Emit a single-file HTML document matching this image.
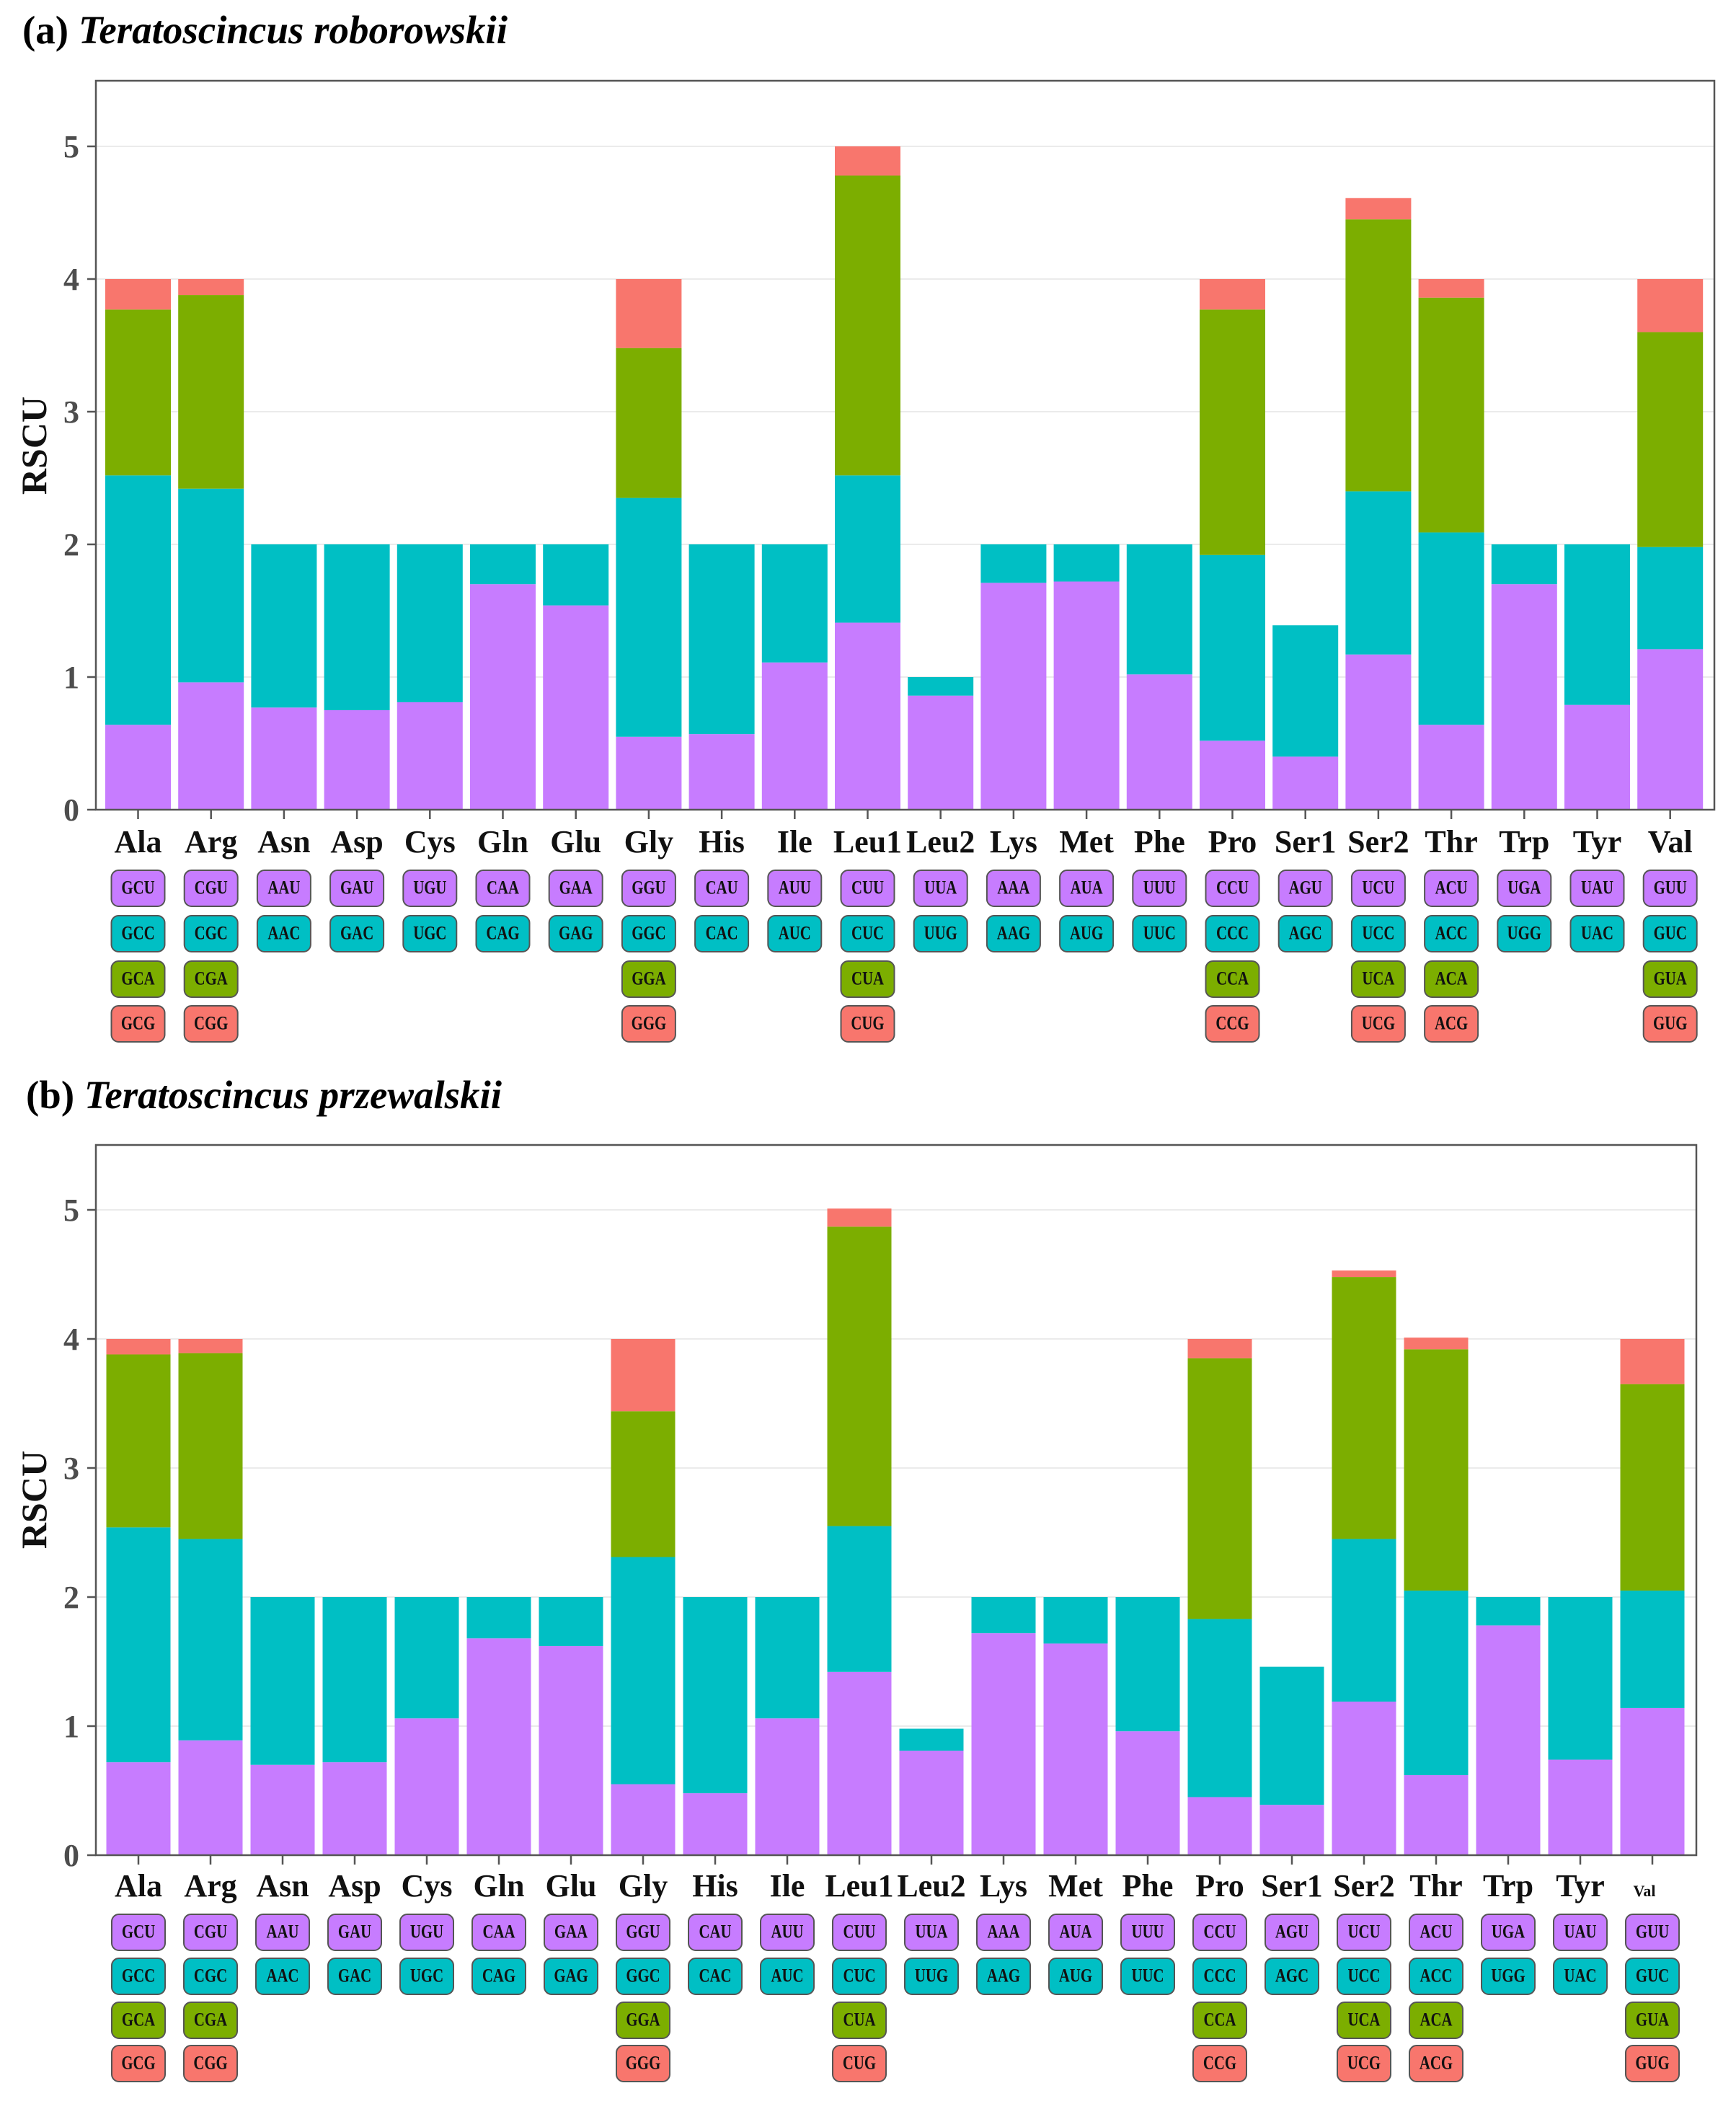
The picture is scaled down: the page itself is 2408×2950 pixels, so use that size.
<!DOCTYPE html>
<html><head><meta charset="utf-8"><style>
html,body{margin:0;padding:0;background:#fff}
svg{display:block}
text{font-family:"Liberation Serif",serif;font-weight:bold}
.P{fill:#C77CFF}.C{fill:#00BFC4}.G{fill:#7CAE00}.R{fill:#F8766D}
.ba rect{x:-45.5px;width:91px}
.bb rect{x:-44.5px;width:89px}
.cd rect{x:-37px;y:-25px;width:74px;height:50px;rx:10px;stroke:#555;stroke-width:2}
.cd text{font-size:26px;text-anchor:middle;dominant-baseline:central;transform:scaleX(.8);fill:#111}
.aa text{font-size:44px;text-anchor:middle;fill:#111}
.yt text{font-size:44px;text-anchor:end;fill:#4d4d4d}
.grid line{stroke:#ebebeb;stroke-width:2}
.tk line{stroke:#555;stroke-width:2.5}
</style></head><body>
<svg width="2408" height="2950" viewBox="0 0 2408 2950" xmlns="http://www.w3.org/2000/svg">
<!-- Panel a -->
<text x="31" y="60" font-size="55" textLength="673" lengthAdjust="spacingAndGlyphs">(a) <tspan font-style="italic">Teratoscincus roborowskii</tspan></text>
<g class="grid"><line x1="133" x2="2378" y1="1123" y2="1123"/><line x1="133" x2="2378" y1="939" y2="939"/><line x1="133" x2="2378" y1="755" y2="755"/><line x1="133" x2="2378" y1="571" y2="571"/><line x1="133" x2="2378" y1="387" y2="387"/><line x1="133" x2="2378" y1="203" y2="203"/></g>
<g class="ba">
<g transform="translate(191.5,1123) scale(1,-184)"><rect class="P" height=".64"/><rect class="C" y=".64" height="1.88"/><rect class="G" y="2.52" height="1.25"/><rect class="R" y="3.77" height=".23"/></g>
<g transform="translate(292.7,1123) scale(1,-184)"><rect class="P" height=".96"/><rect class="C" y=".96" height="1.46"/><rect class="G" y="2.42" height="1.46"/><rect class="R" y="3.88" height=".12"/></g>
<g transform="translate(393.9,1123) scale(1,-184)"><rect class="P" height=".77"/><rect class="C" y=".77" height="1.23"/></g>
<g transform="translate(495.1,1123) scale(1,-184)"><rect class="P" height=".75"/><rect class="C" y=".75" height="1.25"/></g>
<g transform="translate(596.3,1123) scale(1,-184)"><rect class="P" height=".81"/><rect class="C" y=".81" height="1.19"/></g>
<g transform="translate(697.5,1123) scale(1,-184)"><rect class="P" height="1.7"/><rect class="C" y="1.7" height=".3"/></g>
<g transform="translate(798.7,1123) scale(1,-184)"><rect class="P" height="1.54"/><rect class="C" y="1.54" height=".46"/></g>
<g transform="translate(899.9,1123) scale(1,-184)"><rect class="P" height=".55"/><rect class="C" y=".55" height="1.8"/><rect class="G" y="2.35" height="1.13"/><rect class="R" y="3.48" height=".52"/></g>
<g transform="translate(1001.1,1123) scale(1,-184)"><rect class="P" height=".57"/><rect class="C" y=".57" height="1.43"/></g>
<g transform="translate(1102.3,1123) scale(1,-184)"><rect class="P" height="1.11"/><rect class="C" y="1.11" height=".89"/></g>
<g transform="translate(1203.5,1123) scale(1,-184)"><rect class="P" height="1.41"/><rect class="C" y="1.41" height="1.11"/><rect class="G" y="2.52" height="2.26"/><rect class="R" y="4.78" height=".22"/></g>
<g transform="translate(1304.7,1123) scale(1,-184)"><rect class="P" height=".86"/><rect class="C" y=".86" height=".14"/></g>
<g transform="translate(1405.9,1123) scale(1,-184)"><rect class="P" height="1.71"/><rect class="C" y="1.71" height=".29"/></g>
<g transform="translate(1507.1,1123) scale(1,-184)"><rect class="P" height="1.72"/><rect class="C" y="1.72" height=".28"/></g>
<g transform="translate(1608.3,1123) scale(1,-184)"><rect class="P" height="1.02"/><rect class="C" y="1.02" height=".98"/></g>
<g transform="translate(1709.5,1123) scale(1,-184)"><rect class="P" height=".52"/><rect class="C" y=".52" height="1.4"/><rect class="G" y="1.92" height="1.85"/><rect class="R" y="3.77" height=".23"/></g>
<g transform="translate(1810.7,1123) scale(1,-184)"><rect class="P" height=".4"/><rect class="C" y=".4" height=".99"/></g>
<g transform="translate(1911.9,1123) scale(1,-184)"><rect class="P" height="1.17"/><rect class="C" y="1.17" height="1.23"/><rect class="G" y="2.4" height="2.05"/><rect class="R" y="4.45" height=".16"/></g>
<g transform="translate(2013.1,1123) scale(1,-184)"><rect class="P" height=".64"/><rect class="C" y=".64" height="1.45"/><rect class="G" y="2.09" height="1.77"/><rect class="R" y="3.86" height=".14"/></g>
<g transform="translate(2114.3,1123) scale(1,-184)"><rect class="P" height="1.7"/><rect class="C" y="1.7" height=".3"/></g>
<g transform="translate(2215.5,1123) scale(1,-184)"><rect class="P" height=".79"/><rect class="C" y=".79" height="1.21"/></g>
<g transform="translate(2316.7,1123) scale(1,-184)"><rect class="P" height="1.21"/><rect class="C" y="1.21" height=".77"/><rect class="G" y="1.98" height="1.62"/><rect class="R" y="3.6" height=".4"/></g>
</g>
<rect x="133" y="112" width="2245" height="1011" fill="none" stroke="#555" stroke-width="2.5"/>
<g class="tk"><line x1="121" x2="133" y1="1123" y2="1123"/><line x1="121" x2="133" y1="939" y2="939"/><line x1="121" x2="133" y1="755" y2="755"/><line x1="121" x2="133" y1="571" y2="571"/><line x1="121" x2="133" y1="387" y2="387"/><line x1="121" x2="133" y1="203" y2="203"/>
<line x1="191.5" x2="191.5" y1="1123" y2="1136"/><line x1="292.7" x2="292.7" y1="1123" y2="1136"/><line x1="393.9" x2="393.9" y1="1123" y2="1136"/><line x1="495.1" x2="495.1" y1="1123" y2="1136"/><line x1="596.3" x2="596.3" y1="1123" y2="1136"/><line x1="697.5" x2="697.5" y1="1123" y2="1136"/><line x1="798.7" x2="798.7" y1="1123" y2="1136"/><line x1="899.9" x2="899.9" y1="1123" y2="1136"/><line x1="1001.1" x2="1001.1" y1="1123" y2="1136"/><line x1="1102.3" x2="1102.3" y1="1123" y2="1136"/><line x1="1203.5" x2="1203.5" y1="1123" y2="1136"/><line x1="1304.7" x2="1304.7" y1="1123" y2="1136"/><line x1="1405.9" x2="1405.9" y1="1123" y2="1136"/><line x1="1507.1" x2="1507.1" y1="1123" y2="1136"/><line x1="1608.3" x2="1608.3" y1="1123" y2="1136"/><line x1="1709.5" x2="1709.5" y1="1123" y2="1136"/><line x1="1810.7" x2="1810.7" y1="1123" y2="1136"/><line x1="1911.9" x2="1911.9" y1="1123" y2="1136"/><line x1="2013.1" x2="2013.1" y1="1123" y2="1136"/><line x1="2114.3" x2="2114.3" y1="1123" y2="1136"/><line x1="2215.5" x2="2215.5" y1="1123" y2="1136"/><line x1="2316.7" x2="2316.7" y1="1123" y2="1136"/></g>
<g class="yt"><text x="110" y="1138">0</text><text x="110" y="954">1</text><text x="110" y="770">2</text><text x="110" y="586">3</text><text x="110" y="402">4</text><text x="110" y="218">5</text></g>
<text transform="translate(64,618) rotate(-90)" font-size="50" text-anchor="middle" fill="#111">RSCU</text>
<g class="aa"><text x="191.5" y="1182">Ala</text><text x="292.7" y="1182">Arg</text><text x="393.9" y="1182">Asn</text><text x="495.1" y="1182">Asp</text><text x="596.3" y="1182">Cys</text><text x="697.5" y="1182">Gln</text><text x="798.7" y="1182">Glu</text><text x="899.9" y="1182">Gly</text><text x="1001.1" y="1182">His</text><text x="1102.3" y="1182">Ile</text><text x="1203.5" y="1182">Leu1</text><text x="1304.7" y="1182">Leu2</text><text x="1405.9" y="1182">Lys</text><text x="1507.1" y="1182">Met</text><text x="1608.3" y="1182">Phe</text><text x="1709.5" y="1182">Pro</text><text x="1810.7" y="1182">Ser1</text><text x="1911.9" y="1182">Ser2</text><text x="2013.1" y="1182">Thr</text><text x="2114.3" y="1182">Trp</text><text x="2215.5" y="1182">Tyr</text><text x="2316.7" y="1182">Val</text></g>
<g class="cd">
<g transform="translate(191.5,1232)"><rect class="P"/><text>GCU</text></g><g transform="translate(191.5,1295)"><rect class="C"/><text>GCC</text></g><g transform="translate(191.5,1358)"><rect class="G"/><text>GCA</text></g><g transform="translate(191.5,1420)"><rect class="R"/><text>GCG</text></g>
<g transform="translate(292.7,1232)"><rect class="P"/><text>CGU</text></g><g transform="translate(292.7,1295)"><rect class="C"/><text>CGC</text></g><g transform="translate(292.7,1358)"><rect class="G"/><text>CGA</text></g><g transform="translate(292.7,1420)"><rect class="R"/><text>CGG</text></g>
<g transform="translate(393.9,1232)"><rect class="P"/><text>AAU</text></g><g transform="translate(393.9,1295)"><rect class="C"/><text>AAC</text></g>
<g transform="translate(495.1,1232)"><rect class="P"/><text>GAU</text></g><g transform="translate(495.1,1295)"><rect class="C"/><text>GAC</text></g>
<g transform="translate(596.3,1232)"><rect class="P"/><text>UGU</text></g><g transform="translate(596.3,1295)"><rect class="C"/><text>UGC</text></g>
<g transform="translate(697.5,1232)"><rect class="P"/><text>CAA</text></g><g transform="translate(697.5,1295)"><rect class="C"/><text>CAG</text></g>
<g transform="translate(798.7,1232)"><rect class="P"/><text>GAA</text></g><g transform="translate(798.7,1295)"><rect class="C"/><text>GAG</text></g>
<g transform="translate(899.9,1232)"><rect class="P"/><text>GGU</text></g><g transform="translate(899.9,1295)"><rect class="C"/><text>GGC</text></g><g transform="translate(899.9,1358)"><rect class="G"/><text>GGA</text></g><g transform="translate(899.9,1420)"><rect class="R"/><text>GGG</text></g>
<g transform="translate(1001.1,1232)"><rect class="P"/><text>CAU</text></g><g transform="translate(1001.1,1295)"><rect class="C"/><text>CAC</text></g>
<g transform="translate(1102.3,1232)"><rect class="P"/><text>AUU</text></g><g transform="translate(1102.3,1295)"><rect class="C"/><text>AUC</text></g>
<g transform="translate(1203.5,1232)"><rect class="P"/><text>CUU</text></g><g transform="translate(1203.5,1295)"><rect class="C"/><text>CUC</text></g><g transform="translate(1203.5,1358)"><rect class="G"/><text>CUA</text></g><g transform="translate(1203.5,1420)"><rect class="R"/><text>CUG</text></g>
<g transform="translate(1304.7,1232)"><rect class="P"/><text>UUA</text></g><g transform="translate(1304.7,1295)"><rect class="C"/><text>UUG</text></g>
<g transform="translate(1405.9,1232)"><rect class="P"/><text>AAA</text></g><g transform="translate(1405.9,1295)"><rect class="C"/><text>AAG</text></g>
<g transform="translate(1507.1,1232)"><rect class="P"/><text>AUA</text></g><g transform="translate(1507.1,1295)"><rect class="C"/><text>AUG</text></g>
<g transform="translate(1608.3,1232)"><rect class="P"/><text>UUU</text></g><g transform="translate(1608.3,1295)"><rect class="C"/><text>UUC</text></g>
<g transform="translate(1709.5,1232)"><rect class="P"/><text>CCU</text></g><g transform="translate(1709.5,1295)"><rect class="C"/><text>CCC</text></g><g transform="translate(1709.5,1358)"><rect class="G"/><text>CCA</text></g><g transform="translate(1709.5,1420)"><rect class="R"/><text>CCG</text></g>
<g transform="translate(1810.7,1232)"><rect class="P"/><text>AGU</text></g><g transform="translate(1810.7,1295)"><rect class="C"/><text>AGC</text></g>
<g transform="translate(1911.9,1232)"><rect class="P"/><text>UCU</text></g><g transform="translate(1911.9,1295)"><rect class="C"/><text>UCC</text></g><g transform="translate(1911.9,1358)"><rect class="G"/><text>UCA</text></g><g transform="translate(1911.9,1420)"><rect class="R"/><text>UCG</text></g>
<g transform="translate(2013.1,1232)"><rect class="P"/><text>ACU</text></g><g transform="translate(2013.1,1295)"><rect class="C"/><text>ACC</text></g><g transform="translate(2013.1,1358)"><rect class="G"/><text>ACA</text></g><g transform="translate(2013.1,1420)"><rect class="R"/><text>ACG</text></g>
<g transform="translate(2114.3,1232)"><rect class="P"/><text>UGA</text></g><g transform="translate(2114.3,1295)"><rect class="C"/><text>UGG</text></g>
<g transform="translate(2215.5,1232)"><rect class="P"/><text>UAU</text></g><g transform="translate(2215.5,1295)"><rect class="C"/><text>UAC</text></g>
<g transform="translate(2316.7,1232)"><rect class="P"/><text>GUU</text></g><g transform="translate(2316.7,1295)"><rect class="C"/><text>GUC</text></g><g transform="translate(2316.7,1358)"><rect class="G"/><text>GUA</text></g><g transform="translate(2316.7,1420)"><rect class="R"/><text>GUG</text></g>
</g>

<!-- Panel b -->
<text x="36" y="1537" font-size="55" textLength="660" lengthAdjust="spacingAndGlyphs">(b) <tspan font-style="italic">Teratoscincus przewalskii</tspan></text>
<g class="grid"><line x1="133" x2="2353" y1="2573" y2="2573"/><line x1="133" x2="2353" y1="2394" y2="2394"/><line x1="133" x2="2353" y1="2215" y2="2215"/><line x1="133" x2="2353" y1="2036" y2="2036"/><line x1="133" x2="2353" y1="1857" y2="1857"/><line x1="133" x2="2353" y1="1678" y2="1678"/></g>
<g class="bb">
<g transform="translate(192,2573) scale(1,-179)"><rect class="P" height=".72"/><rect class="C" y=".72" height="1.82"/><rect class="G" y="2.54" height="1.34"/><rect class="R" y="3.88" height=".12"/></g>
<g transform="translate(292,2573) scale(1,-179)"><rect class="P" height=".89"/><rect class="C" y=".89" height="1.56"/><rect class="G" y="2.45" height="1.44"/><rect class="R" y="3.89" height=".11"/></g>
<g transform="translate(392,2573) scale(1,-179)"><rect class="P" height=".7"/><rect class="C" y=".7" height="1.3"/></g>
<g transform="translate(492,2573) scale(1,-179)"><rect class="P" height=".72"/><rect class="C" y=".72" height="1.28"/></g>
<g transform="translate(592,2573) scale(1,-179)"><rect class="P" height="1.06"/><rect class="C" y="1.06" height=".94"/></g>
<g transform="translate(692,2573) scale(1,-179)"><rect class="P" height="1.68"/><rect class="C" y="1.68" height=".32"/></g>
<g transform="translate(792,2573) scale(1,-179)"><rect class="P" height="1.62"/><rect class="C" y="1.62" height=".38"/></g>
<g transform="translate(892,2573) scale(1,-179)"><rect class="P" height=".55"/><rect class="C" y=".55" height="1.76"/><rect class="G" y="2.31" height="1.13"/><rect class="R" y="3.44" height=".56"/></g>
<g transform="translate(992,2573) scale(1,-179)"><rect class="P" height=".48"/><rect class="C" y=".48" height="1.52"/></g>
<g transform="translate(1092,2573) scale(1,-179)"><rect class="P" height="1.06"/><rect class="C" y="1.06" height=".94"/></g>
<g transform="translate(1192,2573) scale(1,-179)"><rect class="P" height="1.42"/><rect class="C" y="1.42" height="1.13"/><rect class="G" y="2.55" height="2.32"/><rect class="R" y="4.87" height=".14"/></g>
<g transform="translate(1292,2573) scale(1,-179)"><rect class="P" height=".81"/><rect class="C" y=".81" height=".17"/></g>
<g transform="translate(1392,2573) scale(1,-179)"><rect class="P" height="1.72"/><rect class="C" y="1.72" height=".28"/></g>
<g transform="translate(1492,2573) scale(1,-179)"><rect class="P" height="1.64"/><rect class="C" y="1.64" height=".36"/></g>
<g transform="translate(1592,2573) scale(1,-179)"><rect class="P" height=".96"/><rect class="C" y=".96" height="1.04"/></g>
<g transform="translate(1692,2573) scale(1,-179)"><rect class="P" height=".45"/><rect class="C" y=".45" height="1.38"/><rect class="G" y="1.83" height="2.02"/><rect class="R" y="3.85" height=".15"/></g>
<g transform="translate(1792,2573) scale(1,-179)"><rect class="P" height=".39"/><rect class="C" y=".39" height="1.07"/></g>
<g transform="translate(1892,2573) scale(1,-179)"><rect class="P" height="1.19"/><rect class="C" y="1.19" height="1.26"/><rect class="G" y="2.45" height="2.03"/><rect class="R" y="4.48" height=".05"/></g>
<g transform="translate(1992,2573) scale(1,-179)"><rect class="P" height=".62"/><rect class="C" y=".62" height="1.43"/><rect class="G" y="2.05" height="1.87"/><rect class="R" y="3.92" height=".09"/></g>
<g transform="translate(2092,2573) scale(1,-179)"><rect class="P" height="1.78"/><rect class="C" y="1.78" height=".22"/></g>
<g transform="translate(2192,2573) scale(1,-179)"><rect class="P" height=".74"/><rect class="C" y=".74" height="1.26"/></g>
<g transform="translate(2292,2573) scale(1,-179)"><rect class="P" height="1.14"/><rect class="C" y="1.14" height=".91"/><rect class="G" y="2.05" height="1.6"/><rect class="R" y="3.65" height=".35"/></g>
</g>
<rect x="133" y="1588" width="2220" height="985" fill="none" stroke="#555" stroke-width="2.5"/>
<g class="tk"><line x1="121" x2="133" y1="2573" y2="2573"/><line x1="121" x2="133" y1="2394" y2="2394"/><line x1="121" x2="133" y1="2215" y2="2215"/><line x1="121" x2="133" y1="2036" y2="2036"/><line x1="121" x2="133" y1="1857" y2="1857"/><line x1="121" x2="133" y1="1678" y2="1678"/>
<line x1="192" x2="192" y1="2573" y2="2586"/><line x1="292" x2="292" y1="2573" y2="2586"/><line x1="392" x2="392" y1="2573" y2="2586"/><line x1="492" x2="492" y1="2573" y2="2586"/><line x1="592" x2="592" y1="2573" y2="2586"/><line x1="692" x2="692" y1="2573" y2="2586"/><line x1="792" x2="792" y1="2573" y2="2586"/><line x1="892" x2="892" y1="2573" y2="2586"/><line x1="992" x2="992" y1="2573" y2="2586"/><line x1="1092" x2="1092" y1="2573" y2="2586"/><line x1="1192" x2="1192" y1="2573" y2="2586"/><line x1="1292" x2="1292" y1="2573" y2="2586"/><line x1="1392" x2="1392" y1="2573" y2="2586"/><line x1="1492" x2="1492" y1="2573" y2="2586"/><line x1="1592" x2="1592" y1="2573" y2="2586"/><line x1="1692" x2="1692" y1="2573" y2="2586"/><line x1="1792" x2="1792" y1="2573" y2="2586"/><line x1="1892" x2="1892" y1="2573" y2="2586"/><line x1="1992" x2="1992" y1="2573" y2="2586"/><line x1="2092" x2="2092" y1="2573" y2="2586"/><line x1="2192" x2="2192" y1="2573" y2="2586"/><line x1="2292" x2="2292" y1="2573" y2="2586"/></g>
<g class="yt"><text x="110" y="2588">0</text><text x="110" y="2409">1</text><text x="110" y="2230">2</text><text x="110" y="2051">3</text><text x="110" y="1872">4</text><text x="110" y="1693">5</text></g>
<text transform="translate(64,2080) rotate(-90)" font-size="50" text-anchor="middle" fill="#111">RSCU</text>
<g class="aa"><text x="192" y="2630">Ala</text><text x="292" y="2630">Arg</text><text x="392" y="2630">Asn</text><text x="492" y="2630">Asp</text><text x="592" y="2630">Cys</text><text x="692" y="2630">Gln</text><text x="792" y="2630">Glu</text><text x="892" y="2630">Gly</text><text x="992" y="2630">His</text><text x="1092" y="2630">Ile</text><text x="1192" y="2630">Leu1</text><text x="1292" y="2630">Leu2</text><text x="1392" y="2630">Lys</text><text x="1492" y="2630">Met</text><text x="1592" y="2630">Phe</text><text x="1692" y="2630">Pro</text><text x="1792" y="2630">Ser1</text><text x="1892" y="2630">Ser2</text><text x="1992" y="2630">Thr</text><text x="2092" y="2630">Trp</text><text x="2192" y="2630">Tyr</text><text x="2281" y="2630" style="font-size:22px">Val</text></g>
<g class="cd">
<g transform="translate(192,2680)"><rect class="P"/><text>GCU</text></g><g transform="translate(192,2741)"><rect class="C"/><text>GCC</text></g><g transform="translate(192,2802)"><rect class="G"/><text>GCA</text></g><g transform="translate(192,2862)"><rect class="R"/><text>GCG</text></g>
<g transform="translate(292,2680)"><rect class="P"/><text>CGU</text></g><g transform="translate(292,2741)"><rect class="C"/><text>CGC</text></g><g transform="translate(292,2802)"><rect class="G"/><text>CGA</text></g><g transform="translate(292,2862)"><rect class="R"/><text>CGG</text></g>
<g transform="translate(392,2680)"><rect class="P"/><text>AAU</text></g><g transform="translate(392,2741)"><rect class="C"/><text>AAC</text></g>
<g transform="translate(492,2680)"><rect class="P"/><text>GAU</text></g><g transform="translate(492,2741)"><rect class="C"/><text>GAC</text></g>
<g transform="translate(592,2680)"><rect class="P"/><text>UGU</text></g><g transform="translate(592,2741)"><rect class="C"/><text>UGC</text></g>
<g transform="translate(692,2680)"><rect class="P"/><text>CAA</text></g><g transform="translate(692,2741)"><rect class="C"/><text>CAG</text></g>
<g transform="translate(792,2680)"><rect class="P"/><text>GAA</text></g><g transform="translate(792,2741)"><rect class="C"/><text>GAG</text></g>
<g transform="translate(892,2680)"><rect class="P"/><text>GGU</text></g><g transform="translate(892,2741)"><rect class="C"/><text>GGC</text></g><g transform="translate(892,2802)"><rect class="G"/><text>GGA</text></g><g transform="translate(892,2862)"><rect class="R"/><text>GGG</text></g>
<g transform="translate(992,2680)"><rect class="P"/><text>CAU</text></g><g transform="translate(992,2741)"><rect class="C"/><text>CAC</text></g>
<g transform="translate(1092,2680)"><rect class="P"/><text>AUU</text></g><g transform="translate(1092,2741)"><rect class="C"/><text>AUC</text></g>
<g transform="translate(1192,2680)"><rect class="P"/><text>CUU</text></g><g transform="translate(1192,2741)"><rect class="C"/><text>CUC</text></g><g transform="translate(1192,2802)"><rect class="G"/><text>CUA</text></g><g transform="translate(1192,2862)"><rect class="R"/><text>CUG</text></g>
<g transform="translate(1292,2680)"><rect class="P"/><text>UUA</text></g><g transform="translate(1292,2741)"><rect class="C"/><text>UUG</text></g>
<g transform="translate(1392,2680)"><rect class="P"/><text>AAA</text></g><g transform="translate(1392,2741)"><rect class="C"/><text>AAG</text></g>
<g transform="translate(1492,2680)"><rect class="P"/><text>AUA</text></g><g transform="translate(1492,2741)"><rect class="C"/><text>AUG</text></g>
<g transform="translate(1592,2680)"><rect class="P"/><text>UUU</text></g><g transform="translate(1592,2741)"><rect class="C"/><text>UUC</text></g>
<g transform="translate(1692,2680)"><rect class="P"/><text>CCU</text></g><g transform="translate(1692,2741)"><rect class="C"/><text>CCC</text></g><g transform="translate(1692,2802)"><rect class="G"/><text>CCA</text></g><g transform="translate(1692,2862)"><rect class="R"/><text>CCG</text></g>
<g transform="translate(1792,2680)"><rect class="P"/><text>AGU</text></g><g transform="translate(1792,2741)"><rect class="C"/><text>AGC</text></g>
<g transform="translate(1892,2680)"><rect class="P"/><text>UCU</text></g><g transform="translate(1892,2741)"><rect class="C"/><text>UCC</text></g><g transform="translate(1892,2802)"><rect class="G"/><text>UCA</text></g><g transform="translate(1892,2862)"><rect class="R"/><text>UCG</text></g>
<g transform="translate(1992,2680)"><rect class="P"/><text>ACU</text></g><g transform="translate(1992,2741)"><rect class="C"/><text>ACC</text></g><g transform="translate(1992,2802)"><rect class="G"/><text>ACA</text></g><g transform="translate(1992,2862)"><rect class="R"/><text>ACG</text></g>
<g transform="translate(2092,2680)"><rect class="P"/><text>UGA</text></g><g transform="translate(2092,2741)"><rect class="C"/><text>UGG</text></g>
<g transform="translate(2192,2680)"><rect class="P"/><text>UAU</text></g><g transform="translate(2192,2741)"><rect class="C"/><text>UAC</text></g>
<g transform="translate(2292,2680)"><rect class="P"/><text>GUU</text></g><g transform="translate(2292,2741)"><rect class="C"/><text>GUC</text></g><g transform="translate(2292,2802)"><rect class="G"/><text>GUA</text></g><g transform="translate(2292,2862)"><rect class="R"/><text>GUG</text></g>
</g>
</svg>
</body></html>
